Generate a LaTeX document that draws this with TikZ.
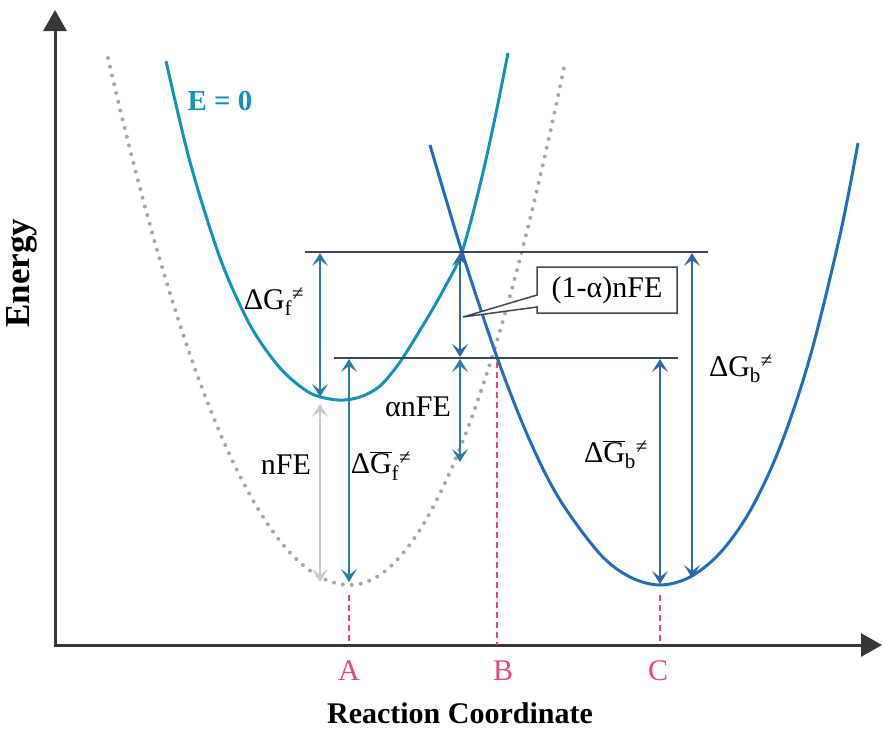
\documentclass[tikz,border=0pt]{standalone}
\usepackage{fontspec}
\setmainfont{Liberation Serif}
\usetikzlibrary{arrows.meta,shapes.callouts}
\definecolor{tealc}{RGB}{22,145,185}
\definecolor{bluec}{RGB}{35,108,190}
\definecolor{arrt}{RGB}{45,125,160}
\definecolor{arrb}{RGB}{50,100,170}
\definecolor{slate}{RGB}{60,72,88}
\definecolor{pinkc}{RGB}{232,70,120}
\definecolor{axisc}{RGB}{55,55,58}
\definecolor{dotc}{RGB}{165,165,168}
\definecolor{nfec}{RGB}{200,200,202}
\tikzset{
  axisline/.style={draw=axisc, line width=3pt, -{Triangle[length=21pt,width=23pt]}},
  curveline/.style={line width=3pt},
  levelline/.style={draw=slate, line width=2pt},
  dimline/.style={line width=1.5pt, {Stealth[length=13pt,width=16pt,inset=6pt]}-{Stealth[length=13pt,width=16pt,inset=6pt]}},
  lbl/.style={font=\fontsize{30}{32}\selectfont, inner sep=0pt},
  guide/.style={draw=pinkc, line width=2pt, dash pattern=on 6pt off 4pt},
}
\begin{document}
\begin{tikzpicture}[x=1pt,y=-1pt]
\useasboundingbox (0,0) rectangle (883,731);
% axes
\coordinate (origin) at (55,645);
\coordinate (ytip) at (55,10);
\coordinate (xtip) at (882,645);
\draw[axisline] ([yshift=-1.5pt]origin) -- (ytip);
\draw[axisline] (origin) -- (xtip);
\node[font=\fontsize{35}{36}\selectfont\bfseries, rotate=90, inner sep=0pt] (ylab) at (22,273) {Energy};
\node[font=\fontsize{30}{31}\selectfont\bfseries, inner sep=0pt] (xlab) at (460,713) {Reaction Coordinate};
% dotted curve (nFE shifted)
\draw[dotc, line width=4pt, line cap=round, dash pattern=on 0pt off 9pt]
  plot[domain=108:350, samples=60] (\x, {585-(0.09487*(\x-350))^2})
  -- plot[domain=350:565, samples=60] (\x, {585-(0.1063*(\x-350))^2});
% E=0 curve
\draw[tealc, curveline] plot[smooth, tension=0.5] coordinates {(166,61) (190,162) (220,258) (250,325) (280,368) (310,393) (338,400) (360,397) (380,386) (400,362) (425,322) (445,287) (462,252) (480,185) (495,118) (508,53)};
% product curve
\draw[bluec, curveline] plot[smooth, tension=0.55] coordinates {(430,145) (462,252) (498,360) (530,441) (560,500) (600,554) (630,577) (660,585) (690,577) (720,553) (750,511) (780,447) (810,357) (840,235) (858,143)};
% level lines
\coordinate (h1a) at (305,252); \coordinate (h1b) at (708,252);
\coordinate (h2a) at (334,358); \coordinate (h2b) at (678,358);
\draw[levelline] (h1a) -- (h1b);
\draw[levelline] (h2a) -- (h2b);
% guide lines
\coordinate (ga1) at (349,595); \coordinate (ga2) at (349,645);
\coordinate (gb1) at (497,362); \coordinate (gb2) at (497,645);
\coordinate (gc1) at (660,595); \coordinate (gc2) at (660,645);
\draw[guide] (ga1) -- (ga2);
\draw[guide] (gb1) -- (gb2);
\draw[guide] (gc1) -- (gc2);
\node[lbl, text=pinkc] (la) at (349,671) {A};
\node[lbl, text=pinkc] (lb) at (503,671) {B};
\node[lbl, text=pinkc] (lc) at (658,671) {C};
% dimension arrows
\coordinate (f1) at (320,253); \coordinate (f2) at (320,397);
\coordinate (n1) at (320,404); \coordinate (n2) at (320,582);
\coordinate (fb1) at (349,359); \coordinate (fb2) at (349,582);
\coordinate (m1) at (460,253); \coordinate (m2) at (460,357);
\coordinate (m3) at (460,359); \coordinate (m4) at (460,462);
\coordinate (bb1) at (660,359); \coordinate (bb2) at (660,584);
\coordinate (b1) at (692,253); \coordinate (b2) at (692,578);
\draw[dimline, color=arrt] (f1) -- (f2);
\draw[dimline, color=nfec, line width=2.5pt] (n1) -- (n2);
\draw[dimline, color=arrt] (fb1) -- (fb2);
\draw[dimline, color=arrb] (m1) -- (m2);
\draw[dimline, color=arrt] (m3) -- (m4);
\draw[dimline, color=arrb] (bb1) -- (bb2);
\draw[dimline, color=arrb] (b1) -- (b2);
% labels
\node[font=\fontsize{29}{30}\selectfont\bfseries, text=tealc, inner sep=0pt] (e0) at (220,101) {E = 0};
\node[lbl] (lgf) at (274,302) {ΔG\textsubscript{f}\textsuperscript{≠}};
\node[lbl] (lnfe) at (286,465) {nFE};
\node[lbl] (lgfb) at (381,466) {Δ$\overline{\hbox{G}}$\textsubscript{f}\textsuperscript{≠}};
\node[lbl] (lanfe) at (418,407) {αnFE};
\node[lbl] (lgbb) at (616,455) {Δ$\overline{\hbox{G}}$\textsubscript{b}\textsuperscript{≠}};
\node[lbl] (lgb) at (741,369) {ΔG\textsubscript{b}\textsuperscript{≠}};
% callout
\coordinate (ptr) at (463,317);
\node[lbl, draw=slate, line width=1.5pt, fill=white, rectangle callout, callout absolute pointer={(ptr)}, callout pointer width=12pt, minimum width=140pt, minimum height=46pt] (cbox) at (607,290) {(1-α)nFE};
\end{tikzpicture}
\end{document}
